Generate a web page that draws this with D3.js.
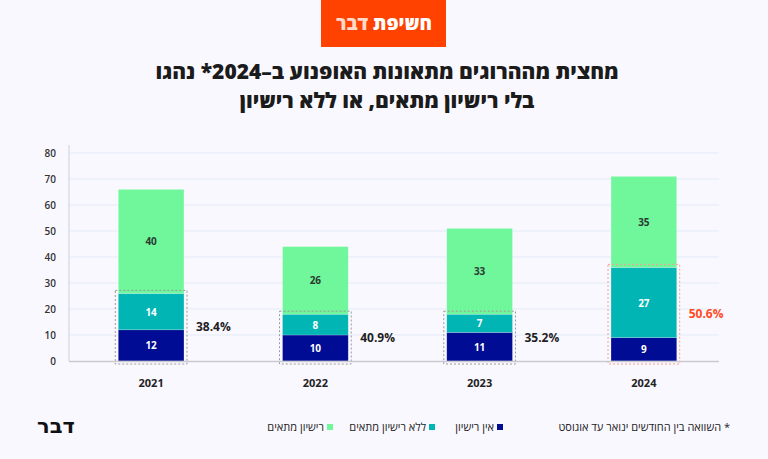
<!DOCTYPE html>
<html>
<head>
<meta charset="utf-8">
<script src="https://cdn.jsdelivr.net/npm/d3@7"></script>
<style>
  body { margin: 0; background: #faf8ff; }
  svg { display: block; font-family: "Open Sans", "DejaVu Sans", sans-serif; }
</style>
</head>
<body>
<div id="chart"></div>
<script>
// data
const years = ["2021", "2022", "2023", "2024"];
const noLicense = [12, 10, 11, 9];
const wrongLicense = [14, 8, 7, 27];
const rightLicense = [40, 26, 33, 35];
const shareLabels = ["38.4%", "40.9%", "35.2%", "50.6%"];
const yTicks = [0, 10, 20, 30, 40, 50, 60, 70, 80];
const seriesNames = ["אין רישיון", "ללא רישיון מתאים", "רישיון מתאים"];
const seriesColors = ["#000c93", "#00b5b4", "#70f79c"];

const W = 768, H = 459;

let svg = d3.select("#chart").append("svg")
    .attr("width", W)
    .attr("height", H);

svg.append("rect").attr("width", W).attr("height", H).attr("fill", "#faf8ff");

// badge on top
svg.append("rect")
    .attr("x", 321).attr("y", 0)
    .attr("width", 125).attr("height", 47)
    .attr("fill", "#ff4200");

let badge = svg.append("text")
    .attr("x", 384).attr("y", 30)
    .attr("text-anchor", "middle")
    .attr("direction", "rtl")
    .attr("font-size", 19)
    .attr("font-weight", 800);
badge.append("tspan").attr("fill", "#ffffff").text("חשיפת ");
badge.append("tspan").attr("fill", "#ffd9c9").text("דבר");

// title
const titleLines = ["מחצית מההרוגים מתאונות האופנוע ב–2024* נהגו", "בלי רישיון מתאים, או ללא רישיון"];
svg.selectAll(".title")
    .data(titleLines)
    .enter().append("text")
    .attr("class", "title")
    .attr("x", 387)
    .attr("y", (d, i) => 79 + i * 29)
    .attr("text-anchor", "middle")
    .attr("direction", "rtl")
    .attr("font-size", 21)
    .attr("font-weight", 800)
    .attr("fill", "#1b1b1b")
    .text(d => d);

// scales
let x = d3.scaleBand()
    .domain(years)
    .range([69, 726])
    .paddingInner(0.6)
    .paddingOuter(0.3);

let y = d3.scaleLinear()
    .domain([0, 80])
    .range([361, 153]);

// gridlines
svg.selectAll(".grid")
    .data(yTicks.slice(1))
    .enter().append("line")
    .attr("x1", 69).attr("x2", 719)
    .attr("y1", d => y(d)).attr("y2", d => y(d))
    .attr("stroke", "#e2ebf8")
    .attr("stroke-width", 1);

// y axis labels
let yAxis = svg.append("g")
    .attr("transform", "translate(69,0)")
    .call(d3.axisLeft(y).tickValues(yTicks).tickSize(0).tickPadding(13));
yAxis.select(".domain").attr("stroke", "#cfcfd6").attr("d", "M0,145V361");
yAxis.selectAll("text")
    .attr("font-size", 10)
    .attr("font-weight", 600)
    .attr("fill", "#333")
    .attr("font-family", "Open Sans, DejaVu Sans, sans-serif");

// stacked bars
let rows = years.map((yr, i) => ({ year: yr, v: [noLicense[i], wrongLicense[i], rightLicense[i]] }));
let stack = d3.stack().keys([0, 1, 2]).value((d, k) => d.v[k]);
let layers = stack(rows);

let layerG = svg.selectAll(".layer")
    .data(layers)
    .enter().append("g")
    .attr("fill", (d, i) => seriesColors[i]);

layerG.selectAll("rect")
    .data(d => d)
    .enter().append("rect")
    .attr("x", d => x(d.data.year))
    .attr("y", d => y(d[1]))
    .attr("width", x.bandwidth())
    .attr("height", d => y(d[0]) - y(d[1]))
    .attr("stroke", "#ffffff")
    .attr("stroke-opacity", 0.35)
    .attr("stroke-width", 0.6);

layers.forEach((layer, k) => {
    svg.selectAll(".seglabel" + k)
        .data(layer)
        .enter().append("text")
        .attr("x", d => x(d.data.year) + x.bandwidth() / 2)
        .attr("y", d => (y(d[0]) + y(d[1])) / 2 + 4)
        .attr("text-anchor", "middle")
        .attr("font-size", 10)
        .attr("font-weight", 700)
        .attr("fill", k === 2 ? "#2b3a33" : "#ffffff")
        .text(d => d.data.v[k]);
});

// dotted box round the two lower segments
rows.forEach((r, i) => {
    let top = y(r.v[0] + r.v[1]);
    let last = i === rows.length - 1;
    svg.append("rect")
        .attr("x", x(r.year) - 3)
        .attr("y", top - 3)
        .attr("width", x.bandwidth() + 6)
        .attr("height", y(0) - top + 6)
        .attr("fill", "none")
        .attr("stroke", last ? "#f7a090" : "#9a9a9a")
        .attr("stroke-width", 1)
        .attr("stroke-dasharray", "2,2");

    svg.append("text")
        .attr("x", x(r.year) + x.bandwidth() + 12)
        .attr("y", (top + y(0)) / 2 + 4)
        .attr("font-size", 12)
        .attr("font-weight", 700)
        .attr("fill", last ? "#ff4a1c" : "#1e1e1e")
        .text(shareLabels[i]);
});

// x axis
svg.append("line")
    .attr("x1", 69).attr("x2", 719)
    .attr("y1", 361.5).attr("y2", 361.5)
    .attr("stroke", "#c9c9cf")
    .attr("stroke-width", 1.5);

svg.selectAll(".year")
    .data(years)
    .enter().append("text")
    .attr("x", d => x(d) + x.bandwidth() / 2)
    .attr("y", 387)
    .attr("text-anchor", "middle")
    .attr("font-size", 11)
    .attr("font-weight", 700)
    .attr("fill", "#222")
    .text(d => d);

// legend
const legendX = [503, 435, 333];
seriesNames.forEach((name, i) => {
    svg.append("rect")
        .attr("x", legendX[i] - 6).attr("y", 424)
        .attr("width", 6).attr("height", 6)
        .attr("fill", seriesColors[i]);
    svg.append("text")
        .attr("x", legendX[i] - 9)
        .attr("y", 431)
        .attr("direction", "rtl")
        .attr("text-anchor", "start")
        .attr("font-size", 11)
        .attr("fill", "#222")
        .text(name);
});

// footnote
svg.append("text")
    .attr("x", 730).attr("y", 431)
    .attr("direction", "rtl")
    .attr("text-anchor", "start")
    .attr("font-size", 11)
    .attr("fill", "#222")
    .text("* השוואה בין החודשים ינואר עד אוגוסט");

// logo bottom left
svg.append("text")
    .attr("x", 56).attr("y", 433)
    .attr("text-anchor", "middle")
    .attr("direction", "rtl")
    .attr("font-size", 21)
    .attr("font-weight", 900)
    .attr("fill", "#111")
    .attr("font-family", "DejaVu Sans, sans-serif")
    .text("דבר");
</script>
</body>
</html>
